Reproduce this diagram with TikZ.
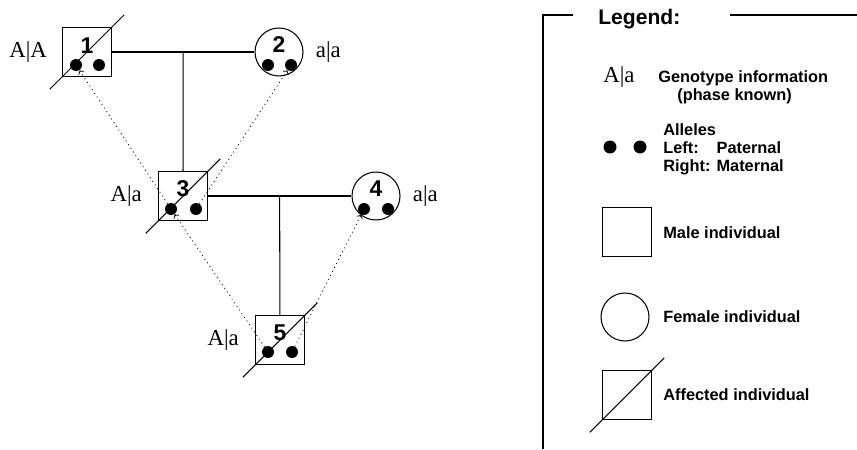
\documentclass[tikz,border=0pt]{standalone}
\usepackage{fontspec}
\setmainfont{Liberation Serif}
\setsansfont{Liberation Sans}
\usetikzlibrary{positioning}
\usetikzlibrary{calc}

\begin{document}
\begin{tikzpicture}
    [x=0.02cm, y=-0.02cm,
    male/.style={draw, line width=0.6pt, minimum size=0.97cm, inner sep=0pt},
    female/.style={circle, draw, line width=0.6pt, minimum size=0.96cm, inner sep=0pt},
    allele/.style={circle, fill=black, minimum size=0.24cm, inner sep=0pt},
    indnum/.style={font=\fontsize{13}{14}\selectfont\sffamily\bfseries, inner sep=0pt},
    geno/.style={font=\fontsize{13}{14}\selectfont, inner sep=0pt},
    legtext/.style={font=\fontsize{9.3}{10.2}\selectfont\sffamily\bfseries, inner sep=0pt, anchor=west},
    pedline/.style={line width=0.6pt},
    inherit/.style={->, dotted, line width=0.5pt},
    legframe/.style={line width=1.4pt}]
    \useasboundingbox (0,0) rectangle (857,449);
    %\draw[step=50,gray,very thin] (0,0) grid (857,449);

    % individuals
    \node[male]   (I1) at (87, 52)   {};
    \node[female] (I2) at (279, 52)  {};
    \node[male]   (I3) at (183, 196) {};
    \node[female] (I4) at (376, 196) {};
    \node[male]   (I5) at (280, 340) {};
    \node[indnum] at (87, 46)   {1};
    \node[indnum] at (279, 45)  {2};
    \node[indnum] at (183, 189) {3};
    \node[indnum] at (376, 189) {4};
    \node[indnum] at (280, 333) {5};

    % paternal / maternal alleles
    \node[allele] (p1) at (76, 65)   {};
    \node[allele] (m1) at (99, 65)   {};
    \node[allele] (p2) at (268, 65)  {};
    \node[allele] (m2) at (291, 65)  {};
    \node[allele] (p3) at (171, 209) {};
    \node[allele] (m3) at (196, 209) {};
    \node[allele] (p4) at (364, 209) {};
    \node[allele] (m4) at (388, 209) {};
    \node[allele] (p5) at (268, 352) {};
    \node[allele] (m5) at (292, 352) {};

    \node[geno, left=0.3cm of I1]   {A|A};
    \node[geno, right=0.24cm of I2] {a|a};
    \node[geno, left=0.32cm of I3]  {A|a};
    \node[geno, right=0.24cm of I4] {a|a};
    \node[geno, left=0.32cm of I5]  {A|a};

    % marriages and descent
    \coordinate (u12) at ($(I1.east)!0.5!(I2.west)$);
    \coordinate (u34) at ($(I3.east)!0.5!(I4.west)$);
    \draw[pedline] (I1) -- (I2);
    \draw[pedline] (u12) -- (I3);
    \draw[pedline] (I3) -- (I4);
    \draw[pedline] (u34) -- (I5);

    % affected
    \draw[pedline] ($(I1.south west)!-0.25!(I1.north east)$) -- ($(I1.north east)!-0.25!(I1.south west)$);
    \draw[pedline] ($(I3.south west)!-0.25!(I3.north east)$) -- ($(I3.north east)!-0.25!(I3.south west)$);
    \draw[pedline] ($(I5.south west)!-0.25!(I5.north east)$) -- ($(I5.north east)!-0.25!(I5.south west)$);

    % allele transmission
    \draw[inherit] (p3) -- (p1);
    \draw[inherit] (m3) -- (m2);
    \draw[inherit] (p5) -- (p3);
    \draw[inherit] (m5) -- (p4);

    % legend
    \node[font=\fontsize{12}{13}\selectfont\sffamily\bfseries, inner sep=0pt, anchor=base west] (legtitle) at (598, 25) {Legend:};
    \draw[legframe] (573, 15) -- (543, 15) -- (543, 449);
    \draw[legframe] (730, 15) -- (857, 15);

    \node[geno, anchor=base west] (lgeno) at (603, 83) {A|a};
    \node[legtext, align=left] at (658, 87) {Genotype information\\\hspace*{10.8pt}(phase known)};

    \node[allele, minimum size=0.26cm] (lp) at (610, 147) {};
    \node[allele, minimum size=0.26cm] (lm) at (640, 147) {};
    \node[legtext] at (663, 150) {\begin{tabular}{@{}l@{ }l}\multicolumn{2}{@{}l}{Alleles}\\Left: & Paternal\\Right: & Maternal\end{tabular}};

    \node[male]   (lmale) at (627, 232)   {};
    \node[legtext] at (663, 233) {Male individual};
    \node[female] (lfemale) at (625, 317) {};
    \node[legtext] at (663, 317) {Female individual};
    \node[male]   (laff) at (627, 395)    {};
    \draw[pedline] ($(laff.south west)!-0.25!(laff.north east)$) -- ($(laff.north east)!-0.25!(laff.south west)$);
    \node[legtext] at (663, 395) {Affected individual};
\end{tikzpicture}
\end{document}
